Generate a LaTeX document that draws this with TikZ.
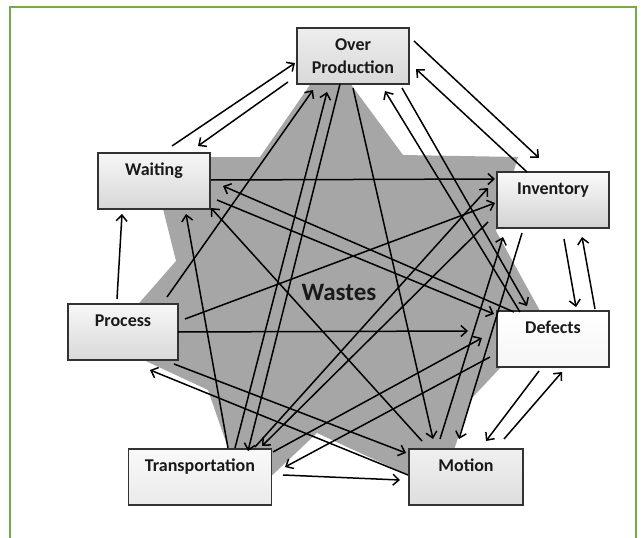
\documentclass[tikz,border=0pt]{standalone}
\usepackage{fontspec}
\setmainfont{Carlito}
\usetikzlibrary{arrows.meta,calc}
\definecolor{framegreen}{RGB}{112,173,71}
\definecolor{stargray}{RGB}{166,166,166}
\definecolor{boxline}{RGB}{50,50,50}
\definecolor{ink}{RGB}{25,25,25}
\begin{document}
\begin{tikzpicture}[x=1pt,y=-1pt,
  boxbase/.style={draw=boxline, line width=1.3pt, top color=gray!6, bottom color=gray!32,
    minimum width=112pt, minimum height=56pt, text=ink},
  wbox/.style={boxbase, inner ysep=5pt, text height=17pt, text depth=29pt,
    font=\fontsize{18}{21}\selectfont\bfseries},
  arr/.style={line width=1.5pt, draw=black, -{Straight Barb[length=6pt,width=11pt]}}]
\useasboundingbox (0,0) rectangle (643,538);
\clip (0,0) rectangle (643,538);
\fill[white] (0,0) rectangle (643,538);
\draw[framegreen, line width=2pt] (10,7) rectangle (636,600);
% star
\fill[stargray] (330,56) -- (403,155) -- (518,157) -- (496,231) -- (545,320) -- (472,398)
  -- (440,490) -- (317,433) -- (246,500) -- (208,390) -- (105,342) -- (176,261)
  -- (150,157) -- (260,157) -- cycle;
\node[text=ink, font=\fontsize{25}{29}\selectfont\bfseries] (wastes) at (339,292) {Wastes};
% boxes
\node[boxbase, align=center, top color=gray!14, bottom color=gray!30,
  font=\fontsize{18}{23}\selectfont\bfseries] (op) at (353,56) {Over\\Production};
\node[wbox] (wait) at (154,181) {Waiting};
\node[wbox, top color=gray!4, bottom color=gray!35] (inv) at (553,200) {Inventory};
\node[wbox, minimum width=110pt, top color=gray!6, bottom color=gray!30] (proc) at (123,332) {Process};
\node[wbox, top color=white, bottom color=gray!7] (def) at (553,339) {Defects};
\node[wbox, minimum width=143pt, top color=gray!5, bottom color=gray!16] (trans) at (200,477) {Transportation};
\node[wbox, minimum width=114pt, top color=gray!12, bottom color=gray!26] (mot) at (466,477) {Motion};
% arrows
\draw[arr] ($(wait)+(18,-35)$) -- ($(op)+(-58,7)$);
\draw[arr] ($(op)+(-65,26)$) -- ($(wait)+(44,-35)$);
\draw[arr] ($(op)+(61,-15)$) -- ($(inv)+(-14,-42)$);
\draw[arr] ($(inv)+(-26,-28)$) -- ($(op)+(63,13)$);
\draw[arr] ($(op)+(49,32)$) -- ($(def)+(-26,-33)$);
\draw[arr] ($(def)+(-33,-27)$) -- ($(op)+(32,35)$);
\draw[arr] ($(op)+(0,32)$) -- ($(mot)+(-33,-38)$);
\draw[arr] ($(op)+(-13,28)$) -- ($(trans)+(48,-26)$);
\draw[arr] ($(trans)+(35,-29)$) -- ($(op)+(-26,36)$);
\draw[arr] ($(proc)+(44,-35)$) -- ($(op)+(-40,34)$);
\draw[arr] ($(wait)+(57,-1)$) -- ($(inv)+(-58,-21)$);
\draw[arr] ($(def)+(-39,-27)$) -- ($(wait)+(69,5)$);
\draw[arr] ($(wait)+(63,19)$) -- ($(def)+(-59,-25)$);
\draw[arr] ($(mot)+(-44,-36)$) -- ($(wait)+(57,27)$);
\draw[arr] ($(proc)+(-6,-33)$) -- ($(wait)+(-32,33)$);
\draw[arr] ($(trans)+(28,-29)$) -- ($(wait)+(32,33)$);
\draw[arr] ($(proc)+(62,-13)$) -- ($(inv)+(-58,3)$);
\draw[arr] ($(proc)+(55,0)$) -- ($(def)+(-85,-8)$);
\draw[arr] ($(proc)+(51,32)$) -- ($(mot)+(-60,-24)$);
\draw[arr] ($(mot)+(-58,-2)$) -- ($(proc)+(27,38)$);
\draw[arr] ($(trans)+(55,-30)$) -- ($(inv)+(-65,-12)$);
\draw[arr] ($(inv)+(-65,22)$) -- ($(trans)+(62,-31)$);
\draw[arr] ($(trans)+(73,-25)$) -- ($(def)+(-71,-1)$);
\draw[arr] ($(def)+(-63,18)$) -- ($(trans)+(85,-10)$);
\draw[arr] ($(trans)+(83,-2)$) -- ($(mot)+(-66,3)$);
\draw[arr] ($(mot)+(-26,-38)$) -- ($(inv)+(-50,37)$);
\draw[arr] ($(inv)+(-31,33)$) -- ($(mot)+(-7,-38)$);
\draw[arr] ($(inv)+(11,39)$) -- ($(def)+(23,-32)$);
\draw[arr] ($(def)+(42,-30)$) -- ($(inv)+(29,37)$);
\draw[arr] ($(def)+(-14,32)$) -- ($(mot)+(20,-36)$);
\draw[arr] ($(mot)+(38,-38)$) -- ($(def)+(9,33)$);
\end{tikzpicture}
\end{document}
